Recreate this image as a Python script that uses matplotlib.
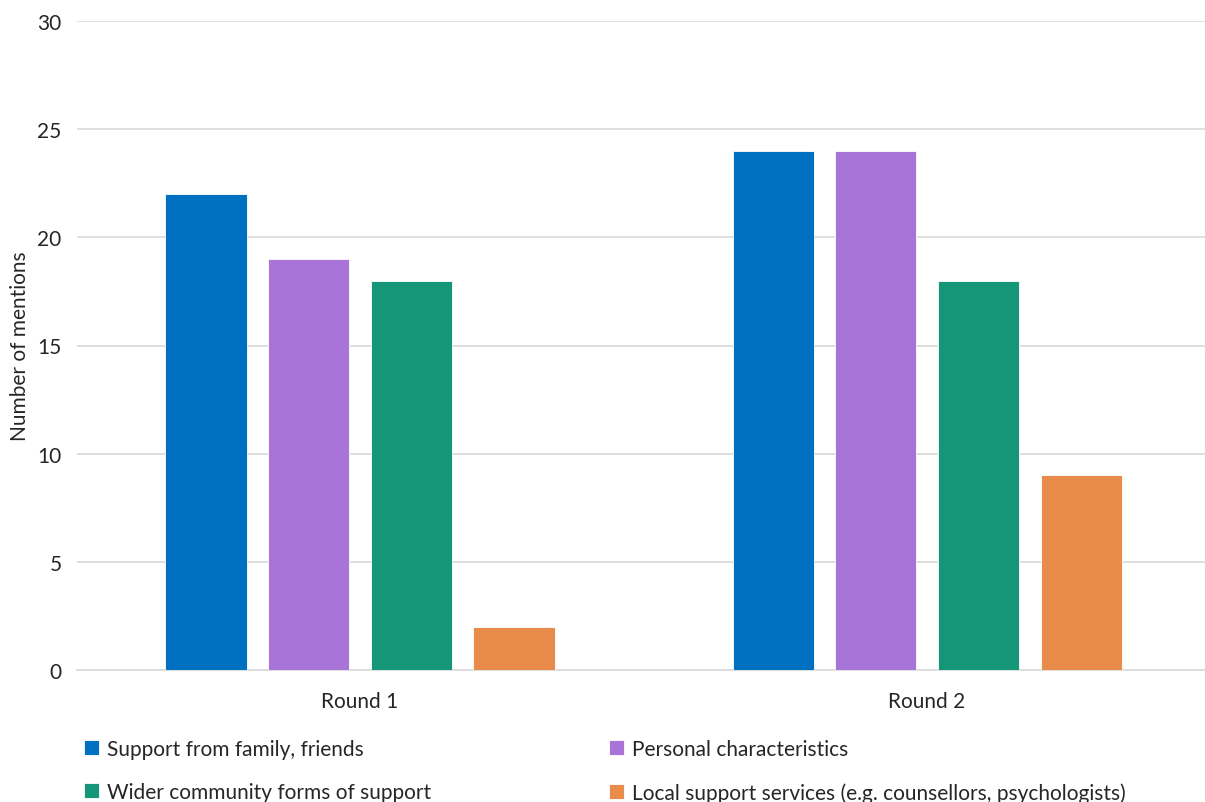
import numpy as np
import matplotlib.pyplot as plt

plt.rcParams['font.family'] = ['Lato', 'DejaVu Sans']

rounds = ['Round 1', 'Round 2']
series = ['Support from family, friends', 'Personal characteristics',
          'Wider community forms of support',
          'Local support services (e.g. counsellors, psychologists)']
family_friends = [22, 24]
personal = [19, 24]
community = [18, 18]
local_services = [2, 9]
values = [family_friends, personal, community, local_services]
colors = ['#0070C0', '#A974D8', '#169679', '#E98B4A']

fig = plt.figure(figsize=(12.05, 8.03), dpi=100)
ax = fig.add_axes([77 / 1205, 1 - 671 / 803, (1205 - 77) / 1205, (671 - 22) / 803])

x = np.arange(len(rounds))
step = 0.181
width = 0.143
bars = []
for i, (vals, c) in enumerate(zip(values, colors)):
    b = ax.bar(x + (i - 1.5) * step, vals, width, color=c, edgecolor='white',
               linewidth=0.6, zorder=3, label=series[i])
    bars.append(b)

ax.set_xlim(-0.499, 1.490)
ax.set_ylim(0, 30)
ax.set_yticks(range(0, 31, 5))
ax.set_xticks(x)
ax.set_xticklabels(rounds)
ax.grid(axis='y', color='#d9d9d9', linewidth=1.2, zorder=0)
for s in ['top', 'right', 'left']:
    ax.spines[s].set_visible(False)
ax.spines['bottom'].set_color('#d9d9d9')
ax.spines['bottom'].set_linewidth(1.2)
ax.tick_params(length=0, labelsize=15, colors='#262626')
ax.tick_params(axis='x', pad=15)
ax.tick_params(axis='y', pad=11)
ax.set_ylabel('Number of mentions', fontsize=15, color='#262626')
ax.yaxis.set_label_coords(-0.042, 0.5)

# legend runs column-wise, so order as family, community | personal, local
order = [0, 2, 1, 3]
fig.legend([bars[i] for i in order], [series[i] for i in order],
           ncol=2, loc='upper left', bbox_to_anchor=(84 / 1205, 1 - 740 / 803),
           frameon=False, fontsize=15, handlelength=0.7, handleheight=0.7,
           handletextpad=0.4, columnspacing=8.55, labelspacing=1.1,
           borderpad=0, borderaxespad=0, labelcolor='#262626')

fig.savefig('out.png', dpi=100)
